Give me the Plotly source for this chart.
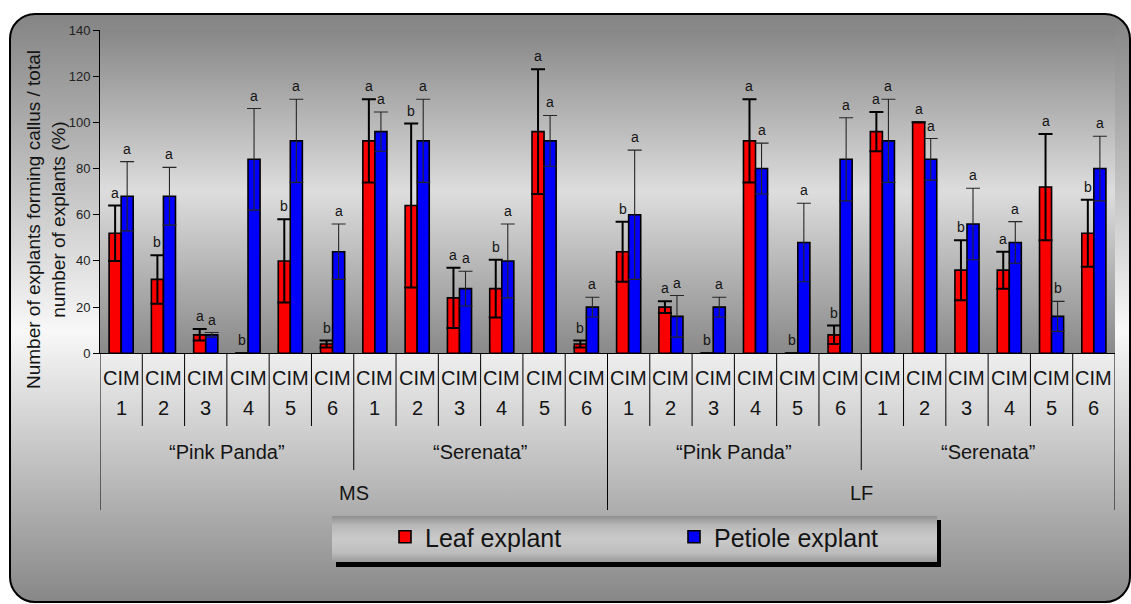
import base64
import plotly.graph_objects as go

# ---------------- data ----------------
media = ["MS", "LF"]
cultivars = ["\u201cPink Panda\u201d", "\u201cSerenata\u201d"]
cims = ["1", "2", "3", "4", "5", "6"]

leaf = [52, 32, 8, 0, 40, 4,
        92, 64, 24, 28, 96, 4,
        44, 20, 0, 92, 0, 8,
        96, 100, 36, 36, 72, 52]
leaf_err = [12, 10.5, 2.5, None, 18, 1.5,
            18, 35.5, 13, 12.5, 27, 1.5,
            13, 2.5, None, 18, None, 4,
            8.5, None, 13, 8, 23, 14.5]
leaf_letters = ["a", "b", "a", "b", "b", "b",
                "a", "b", "a", "b", "a", "b",
                "b", "a", "b", "a", "b", "b",
                "a", "a", "b", "a", "a", "b"]

petiole = [68, 68, 8, 84, 92, 44,
           96, 92, 28, 40, 92, 20,
           60, 16, 20, 80, 48, 84,
           92, 84, 56, 48, 16, 80]
petiole_err = [15, 12.5, 1, 22, 18, 12,
               8.5, 18, 7.5, 16, 11, 4.3,
               28, 9, 4.3, 11, 17, 18,
               18, 9, 15.5, 9, 6.5, 14]
petiole_letters = ["a", "a", "a", "a", "a", "a",
                   "a", "a", "a", "a", "a", "a",
                   "a", "a", "a", "a", "a", "a",
                   "a", "a", "a", "a", "b", "a"]

y_ticks = [0, 20, 40, 60, 80, 100, 120, 140]
series_names = ["Leaf explant", "Petiole explant"]
y_title = "Number of explants forming callus / total<br>number of explants (%)"

# ---------------- layout constants ----------------
W, H = 1131, 604
PL, PR, PT, PB = 100, 1115, 30, 353.3
BARGAP = 0.43
FONT = "Arial, Liberation Sans, sans-serif"
NARROW = "Liberation Sans Narrow, Arial Narrow, Arial, Liberation Sans, sans-serif"
TXT = "#141414"


def px(v):
    return v / W


def py(v):
    return (H - v) / H


n_cim, n_cult = len(cims), len(cultivars)
n = len(media) * n_cult * n_cim
xs = list(range(n))

# ---------------- background (gradients) as an svg image ----------------
svg = f'''<svg xmlns="http://www.w3.org/2000/svg" width="{W}" height="{H}" viewBox="0 0 {W} {H}" preserveAspectRatio="none">
<defs>
<linearGradient id="outer" x1="0" y1="0" x2="0" y2="1">
<stop offset="0" stop-color="#848484"/><stop offset="0.54" stop-color="#f8f8f8"/><stop offset="1" stop-color="#878787"/>
</linearGradient>
<linearGradient id="plot" x1="0" y1="0" x2="0" y2="1">
<stop offset="0" stop-color="#878787"/><stop offset="0.5" stop-color="#dddddd"/><stop offset="1" stop-color="#898989"/>
</linearGradient>
<linearGradient id="leg" x1="0" y1="0" x2="0" y2="1">
<stop offset="0" stop-color="#8e8e8e"/><stop offset="0.2" stop-color="#b8b8b8"/><stop offset="0.5" stop-color="#cacaca"/><stop offset="0.8" stop-color="#bdbdbd"/><stop offset="1" stop-color="#9a9a9a"/>
</linearGradient>
</defs>
<rect x="0" y="0" width="{W}" height="{H}" fill="#ffffff"/>
<rect x="10" y="14" width="1120" height="588" rx="25" ry="25" fill="url(#outer)" stroke="#000000" stroke-width="2"/>
<rect x="{PL}" y="{PT}" width="{PR - PL}" height="{PB - PT}" fill="url(#plot)"/>
<rect x="336" y="520" width="605" height="47" fill="#000000"/>
<rect x="332" y="516" width="605" height="46" fill="url(#leg)"/>
</svg>'''
svg_uri = "data:image/svg+xml;base64," + base64.b64encode(svg.encode("utf-8")).decode("ascii")

fig = go.Figure()

fig.add_trace(go.Bar(
    x=xs, y=leaf, name=series_names[0],
    marker=dict(color="#fa0000", line=dict(color="#000000", width=1.6)),
    error_y=dict(type="data", array=leaf_err, symmetric=True, visible=True,
                 color="#000000", thickness=2, width=7),
))
fig.add_trace(go.Bar(
    x=xs, y=petiole, name=series_names[1],
    marker=dict(color="#0000fa", line=dict(color="#000000", width=1.6)),
    error_y=dict(type="data", array=petiole_err, symmetric=True, visible=True,
                 color="#262626", thickness=1.1, width=7),
))

annotations = []
shapes = []

# significance letters
bar_w = (1 - BARGAP) / 2
off = bar_w / 2
for vals, errs, lets, sign in [(leaf, leaf_err, leaf_letters, -1),
                                (petiole, petiole_err, petiole_letters, 1)]:
    for i, (v, e, l) in enumerate(zip(vals, errs, lets)):
        annotations.append(dict(
            x=i + sign * off, y=v + (e or 0), xref="x", yref="y", text=l,
            showarrow=False, yanchor="bottom", yshift=3,
            font=dict(family=FONT, size=14, color=TXT)))

# category labels
for i in xs:
    annotations.append(dict(x=i, y=py(378), xref="x", yref="paper", text="CIM",
                            showarrow=False, yanchor="middle",
                            font=dict(family=NARROW, size=20, color=TXT)))
    annotations.append(dict(x=i, y=py(408), xref="x", yref="paper", text=cims[i % n_cim],
                            showarrow=False, yanchor="middle",
                            font=dict(family=FONT, size=20, color=TXT)))
for m_i, m in enumerate(media):
    for c_i, c in enumerate(cultivars):
        start = (m_i * n_cult + c_i) * n_cim
        annotations.append(dict(x=start + (n_cim - 1) / 2, y=py(452), xref="x", yref="paper",
                                text=c, showarrow=False, yanchor="middle",
                                font=dict(family=FONT, size=20, color=TXT)))
    start = m_i * n_cult * n_cim
    annotations.append(dict(x=start + (n_cult * n_cim - 1) / 2, y=py(493), xref="x", yref="paper",
                            text=m, showarrow=False, yanchor="middle",
                            font=dict(family=FONT, size=20, color=TXT)))

# divider lines of the category axis
for k in range(n + 1):
    xpos = k - 0.5
    if k % (n_cult * n_cim) == 0:
        yb = 510
    elif k % n_cim == 0:
        yb = 470
    else:
        yb = 426
    shapes.append(dict(type="line", xref="x", yref="paper", x0=xpos, x1=xpos,
                       y0=py(PB), y1=py(yb), line=dict(color="#000000", width=1)))

# y axis title
annotations.append(dict(x=px(46), y=py(220), xref="paper", yref="paper", text=y_title,
                        textangle=-90, showarrow=False, xanchor="center", yanchor="middle",
                        font=dict(family=FONT, size=19, color=TXT)))

fig.update_layout(
    width=W, height=H, autosize=False,
    margin=dict(l=0, r=0, t=0, b=0, pad=0, autoexpand=False),
    paper_bgcolor="#ffffff", plot_bgcolor="rgba(0,0,0,0)",
    barmode="group", bargap=BARGAP, bargroupgap=0,
    font=dict(family=FONT, color=TXT),
    xaxis=dict(domain=[px(PL), px(PR)], range=[-0.5, n - 0.5], showticklabels=False,
               ticks="", showgrid=False, zeroline=False, showline=True, automargin=False,
               linecolor="#000000", linewidth=1, fixedrange=True),
    yaxis=dict(domain=[py(PB), py(PT)], range=[0, 140], tickvals=y_ticks, automargin=False,
               ticks="outside", ticklen=6, tickcolor="#000000", tickwidth=1,
               showgrid=False, zeroline=False, showline=True, linecolor="#000000",
               linewidth=1, tickfont=dict(family=FONT, size=13, color="#222222"),
               fixedrange=True),
    legend=dict(orientation="h", x=px(385), y=py(537), xanchor="left", yanchor="middle",
                bgcolor="rgba(0,0,0,0)", borderwidth=0,
                font=dict(family=FONT, size=25, color=TXT),
                entrywidth=244, entrywidthmode="pixels", traceorder="normal"),
    showlegend=True,
    images=[dict(source=svg_uri, xref="paper", yref="paper", x=0, y=1, sizex=1, sizey=1,
                 xanchor="left", yanchor="top", sizing="stretch", layer="below")],
    annotations=annotations,
    shapes=shapes,
)

fig.write_html(
    "out.html",
    config={"displayModeBar": False},
    post_script="document.body.style.margin='0';document.body.style.overflow='hidden';",
)
